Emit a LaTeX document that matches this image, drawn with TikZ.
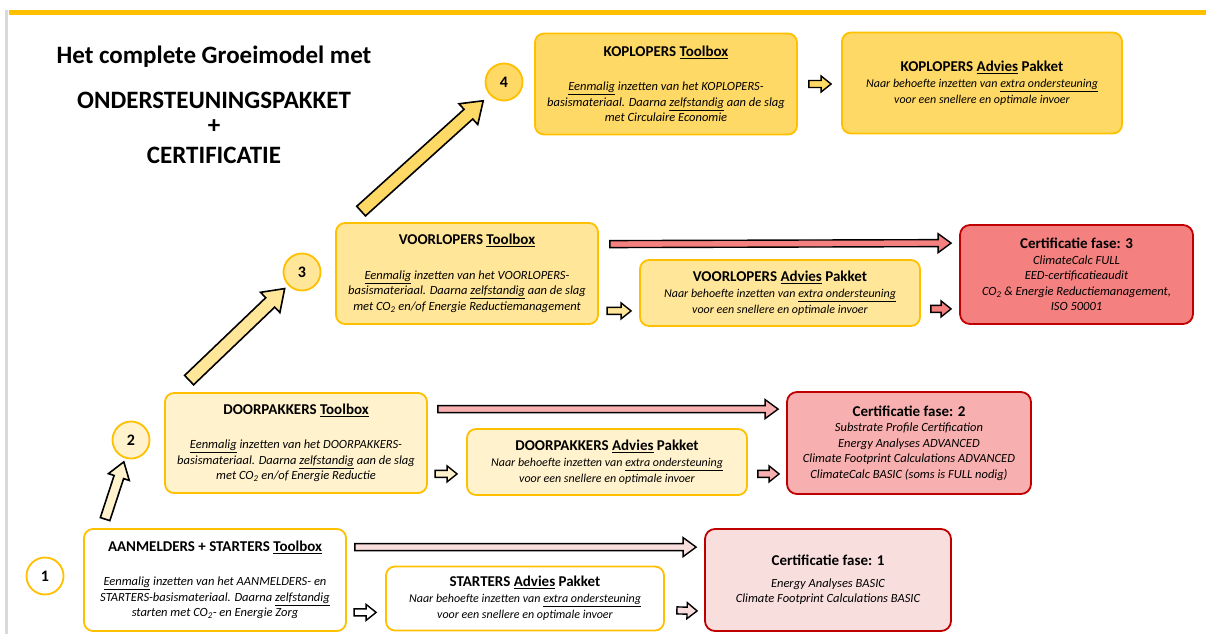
\documentclass[tikz,border=0pt]{standalone}
\usepackage{fontspec}
\setmainfont{Carlito}
\usetikzlibrary{calc}

\definecolor{goldline}{HTML}{FFC000}
\definecolor{kopfill}{HTML}{FFD966}
\definecolor{voorfill}{HTML}{FFE699}
\definecolor{doorfill}{HTML}{FFF2CC}
\definecolor{certline}{HTML}{C00000}
\definecolor{certdrie}{HTML}{F58080}
\definecolor{certtwee}{HTML}{F7AFAF}
\definecolor{certeen}{HTML}{F9DEDE}
\definecolor{sideline}{HTML}{D9D9D9}

\newcommand{\boxtitle}[1]{{\fontsize{15}{17}\selectfont\upshape\bfseries #1}}

\tikzset{
  arrowdims/.code args={#1/#2/#3}{\def\aw{#1}\def\aW{#2}\def\ah{#3}},
  blockarrow/.style={draw=black, line width=1.4pt, line join=miter, arrowdims=3.5pt/9.5pt/13pt,
    to path={($(\tikztostart)!\aw!90:(\tikztotarget)$)
      -- ($(\tikztotarget)!\ah!(\tikztostart)!\aw!-90:(\tikztostart)$)
      -- ($(\tikztotarget)!\ah!(\tikztostart)!\aW!-90:(\tikztostart)$)
      -- (\tikztotarget)
      -- ($(\tikztotarget)!\ah!(\tikztostart)!\aW!90:(\tikztostart)$)
      -- ($(\tikztotarget)!\ah!(\tikztostart)!\aw!90:(\tikztostart)$)
      -- ($(\tikztostart)!\aw!-90:(\tikztotarget)$) -- cycle}},
  smallarrow/.style={blockarrow, arrowdims=3.5pt/8pt/10pt},
  stepuparrow/.style={blockarrow, line width=1.6pt, arrowdims=6.5pt/14pt/20pt},
  box/.style={draw=goldline, line width=1.8pt, rounded corners=9pt, align=center, inner sep=0pt,
    font=\fontsize{12.5}{15.5}\selectfont\itshape},
  toolbox/.style={box, minimum width=262pt, minimum height=101pt},
  advies/.style={box, minimum width=280pt, minimum height=66pt,
    font=\fontsize{12}{16}\selectfont\itshape},
  certbox/.style={box, draw=certline, rounded corners=10pt, minimum height=101pt,
    font=\fontsize{12.5}{15.5}\selectfont\itshape},
  phase/.style={circle, draw=goldline, line width=1.8pt, minimum size=37pt, inner sep=0pt,
    font=\fontsize{16}{16}\selectfont\bfseries},
  headline/.style={font=\fontsize{25}{25}\selectfont\bfseries, inner sep=0pt},
}

\begin{document}
\begin{tikzpicture}[x=1pt, y=-1pt]
\useasboundingbox (0,0) rectangle (1206,634);
% frame
\fill[sideline] (5,10) rectangle (8,634);
\fill[goldline] (9,10) rectangle (1206,15);

% title
\node[headline] (ttl) at (214,57) {Het complete Groeimodel met};
\node[headline] (ttlpak) at (214,100) {ONDERSTEUNINGSPAKKET};
\node[headline] (ttlplus) at (214,127) {+};
\node[headline] (ttlcert) at (214,155) {CERTIFICATIE};

% fase 4
\node[phase, fill=kopfill] (c4) at (504,82) {4};
\node[toolbox, fill=kopfill] (kt) at (666,84) {\boxtitle{KOPLOPERS \underline{Toolbox}}\\[19pt]
  \underline{Eenmalig} inzetten van het KOPLOPERS-\\
  basismateriaal. Daarna \underline{zelfstandig} aan de slag\\
  met Circulaire Economie};
\node[advies, fill=kopfill, minimum height=101pt] (ka) at (982,83) {\boxtitle{KOPLOPERS \underline{Advies} Pakket}\\
  Naar behoefte inzetten van \underline{extra ondersteuning}\\
  voor een snellere en optimale invoer};

% fase 3
\node[phase, fill=voorfill] (c3) at (302,272) {3};
\node[toolbox, fill=voorfill] (tb3) at (467,273.5) {\boxtitle{VOORLOPERS \underline{Toolbox}}\\[19pt]
  \underline{Eenmalig} inzetten van het VOORLOPERS-\\
  basismateriaal. Daarna \underline{zelfstandig} aan de slag\\
  met CO\textsubscript{2} en/of Energie Reductiemanagement};
\node[advies, fill=voorfill] (ad3) at (780,293) {\boxtitle{VOORLOPERS \underline{Advies} Pakket}\\
  Naar behoefte inzetten van \underline{extra ondersteuning}\\
  voor een snellere en optimale invoer};
\node[certbox, fill=certdrie, minimum width=233pt, minimum height=99pt] (cf3) at (1076.5,274.5) {\boxtitle{Certificatie fase: 3}\\
  ClimateCalc FULL\\
  EED-certificatieaudit\\
  CO\textsubscript{2} \& Energie Reductiemanagement,\\
  ISO 50001};

% fase 2
\node[phase, fill=doorfill] (c2) at (131,440) {2};
\node[toolbox, fill=doorfill, minimum height=100pt] (tb2) at (296,443) {\boxtitle{DOORPAKKERS \underline{Toolbox}}\\[19pt]
  \underline{Eenmalig} inzetten van het DOORPAKKERS-\\
  basismateriaal. Daarna \underline{zelfstandig} aan de slag\\
  met CO\textsubscript{2} en/of Energie Reductie};
\node[advies, fill=doorfill] (ad2) at (607,462) {\boxtitle{DOORPAKKERS \underline{Advies} Pakket}\\
  Naar behoefte inzetten van \underline{extra ondersteuning}\\
  voor een snellere en optimale invoer};
\node[certbox, fill=certtwee, minimum width=244pt, minimum height=102pt] (cf2) at (909,443) {\boxtitle{Certificatie fase: 2}\\
  Substrate Profile Certification\\
  Energy Analyses ADVANCED\\
  Climate Footprint Calculations ADVANCED\\
  ClimateCalc BASIC (soms is FULL nodig)};

% fase 1
\node[phase, fill=white] (c1) at (45,576) {1};
\node[toolbox, fill=white, minimum height=102pt] (tb1) at (215,580) {\boxtitle{AANMELDERS + STARTERS \underline{Toolbox}}\\[19pt]
  \underline{Eenmalig} inzetten van het AANMELDERS- en\\
  STARTERS-basismateriaal. Daarna \underline{zelfstandig}\\
  starten met CO\textsubscript{2}- en Energie Zorg};
\node[advies, fill=white, minimum width=278pt, minimum height=64pt] (ad1) at (525,598.5) {\boxtitle{STARTERS \underline{Advies} Pakket}\\
  Naar behoefte inzetten van \underline{extra ondersteuning}\\
  voor een snellere en optimale invoer};
\node[certbox, fill=certeen, minimum width=246pt, minimum height=102pt] (cf1) at (828,580) {\boxtitle{Certificatie fase: 1}\\[6pt]
  Energy Analyses BASIC\\
  Climate Footprint Calculations BASIC};

% step-up arrows
\coordinate (s4) at ($(tb3.north west)+(26,-11)$);
\coordinate (s3) at ($(tb2.north west)+(25,-12)$);
\coordinate (s2) at ($(tb1.north west)+(22,-9)$);
\draw[stepuparrow, fill=kopfill] (s4) to ($(c4)!28pt!(s4)$);
\draw[stepuparrow, fill=voorfill] (s3) to ($(c3)!24pt!(s3)$);
\draw[stepuparrow, fill=doorfill, arrowdims=5pt/11pt/16pt] (s2) to ($(c2)!23pt!(s2)$);

% toolbox -> certificatie
\draw[blockarrow, fill=certdrie] ($(tb3.north east)+(11,22)$) to ($(cf3.north west)+(-8,19)$);
\draw[blockarrow, fill=certtwee] ($(tb2.north east)+(10,17)$) to ($(cf2.north west)+(-8,18)$);
\draw[blockarrow, fill=certeen] ($(tb1.north east)+(8,19)$) to ($(cf1.north west)+(-8,19)$);

% toolbox -> advies -> certificatie
\draw[smallarrow, fill=kopfill] ($(kt.east)+(11,0)$) to ($(ka.west)+(-10,1)$);
\draw[smallarrow, fill=voorfill] ($(ad3.south west)+(-32,-16)$) to ($(ad3.south west)+(-8,-16)$);
\draw[smallarrow, fill=certdrie] ($(ad3.south east)+(10,-18)$) to ($(cf3.south west)+(-8,-16)$);
\draw[smallarrow, fill=doorfill] ($(ad2.south west)+(-31,-22)$) to ($(ad2.south west)+(-9,-22)$);
\draw[smallarrow, fill=certtwee] ($(ad2.south east)+(10,-22)$) to ($(cf2.south west)+(-7,-21)$);
\draw[smallarrow, fill=white] ($(ad1.south west)+(-31,-19)$) to ($(ad1.south west)+(-9,-19)$);
\draw[smallarrow, fill=certeen] ($(ad1.south east)+(12,-21)$) to ($(cf1.south west)+(-7,-21)$);
\end{tikzpicture}
\end{document}
